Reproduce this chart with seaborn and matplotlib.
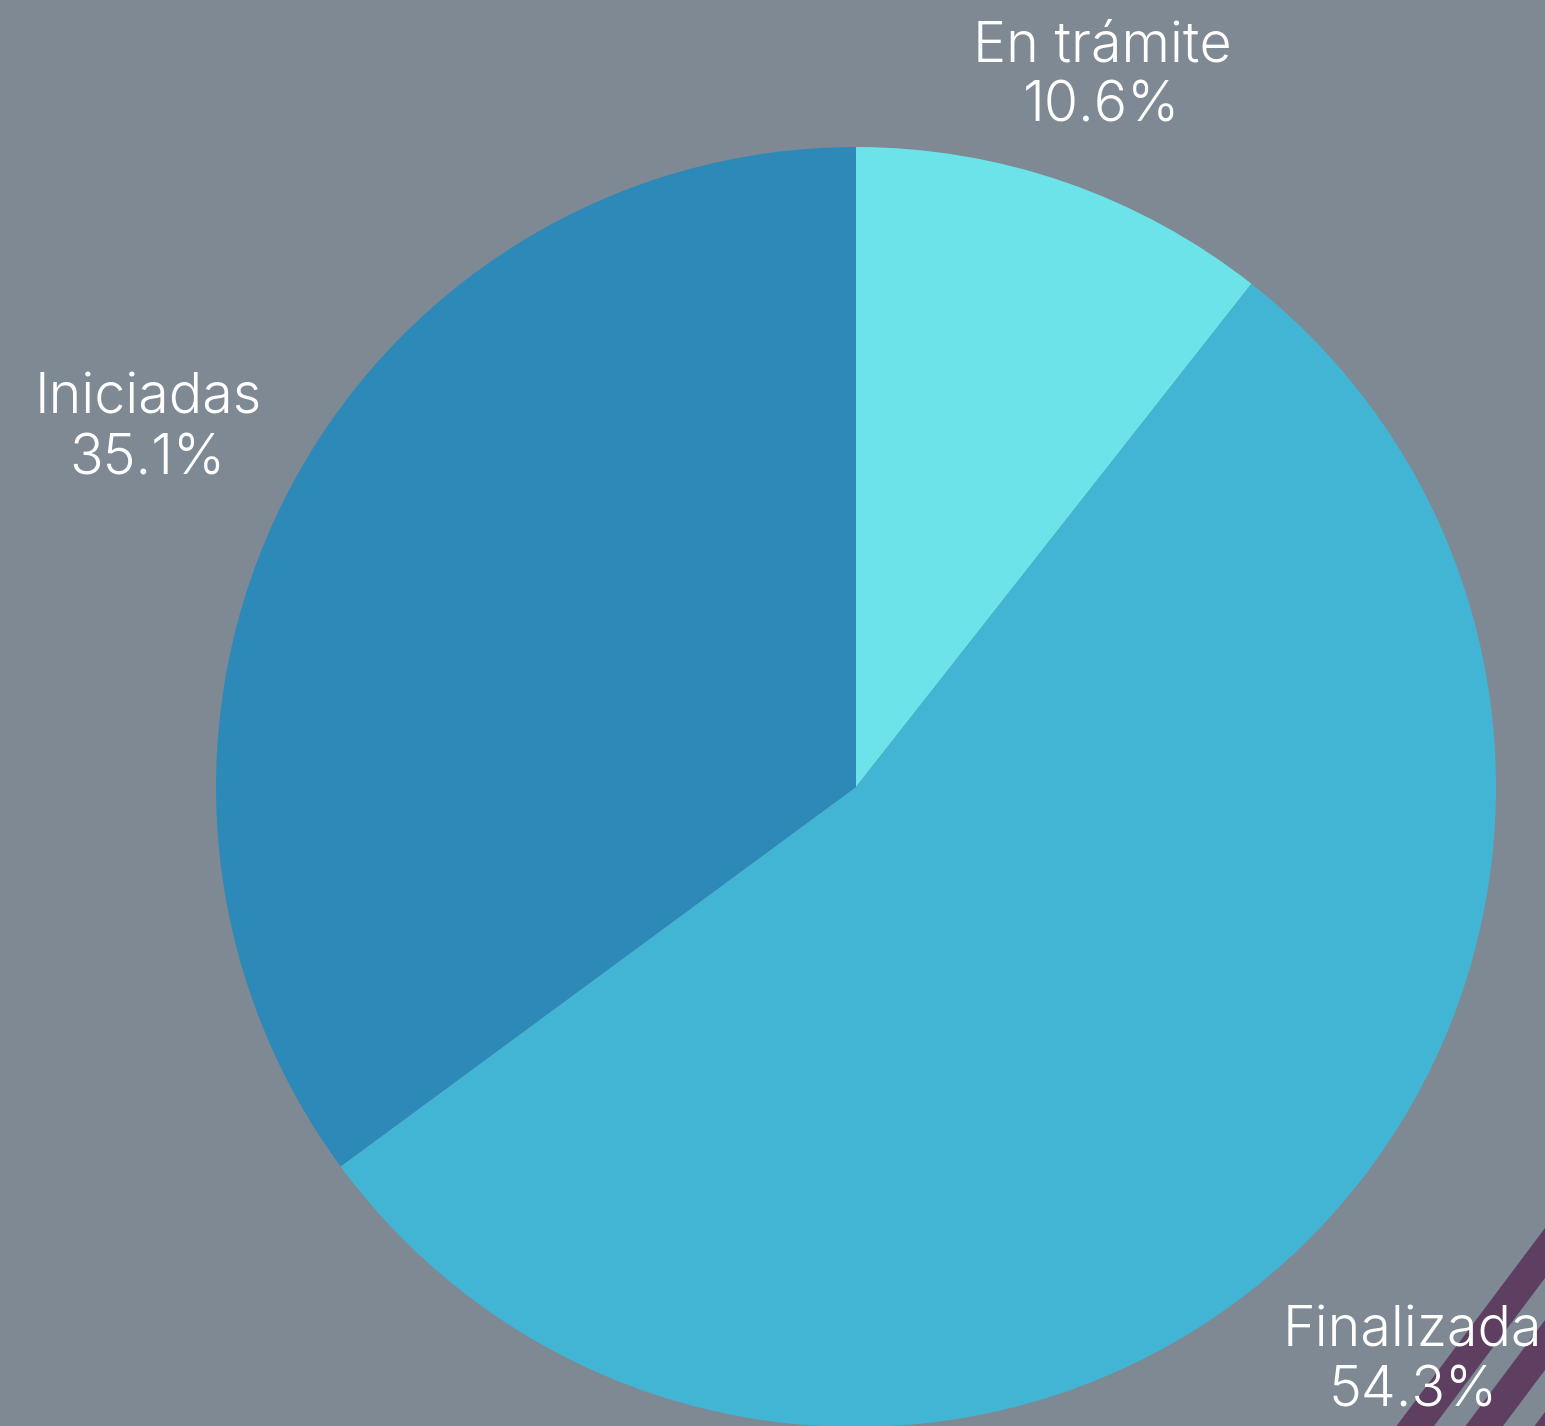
import numpy as np
import matplotlib
matplotlib.use("Agg")
import matplotlib.pyplot as plt
import seaborn as sns
from matplotlib.patches import Polygon

categories = ["En trámite", "Finalizada", "Iniciadas"]
values = [10.6, 54.3, 35.1]
colors = ["#6BE3E8", "#42B5D5", "#2D8AB8"]
label_dist = [1.175, 1.25, 1.24]

sns.set_theme(style="white")
plt.rcParams["font.family"] = ["Inter", "DejaVu Sans"]

W, H = 1545, 1426
bg = "#7E8994"
fig = plt.figure(figsize=(W / 100, H / 100), dpi=100, facecolor=bg)

# background axes with decorative stripes (bottom right)
bax = fig.add_axes([0, 0, 1, 1], zorder=-1)
bax.set_xlim(0, W)
bax.set_ylim(H, 0)
bax.axis("off")
stripe = "#5E3F62"
slope, thick, ext = 0.75, 50, 250
for y0 in (1228, 1320, 1412):
    bax.add_patch(Polygon([(1545, y0), (1545, y0 + thick),
                           (1545 - slope * ext, y0 + thick + ext),
                           (1545 - slope * ext, y0 + ext)],
                          closed=True, color=stripe, lw=0))

cx, cy, r = 856, 787, 640
ax = fig.add_axes([(cx - r) / W, (H - cy - r) / H, 2 * r / W, 2 * r / H], zorder=1)
ax.set_facecolor("none")
wedges, _ = ax.pie(values, colors=colors, startangle=90, counterclock=False,
                   radius=1, wedgeprops=dict(linewidth=0))
ax.set_xlim(-1, 1)
ax.set_ylim(-1, 1)
ax.set_aspect("equal")
ax.axis("off")

for w, cat, v, d in zip(wedges, categories, values, label_dist):
    th = np.deg2rad((w.theta1 + w.theta2) / 2)
    ax.text(d * np.cos(th), d * np.sin(th), f"{cat}\n{v:.1f}%",
            ha="center", va="center", color="white", fontsize=40,
            fontweight=300, linespacing=1.2, clip_on=False, zorder=5)

fig.savefig("out.png", dpi=100, facecolor=bg)
